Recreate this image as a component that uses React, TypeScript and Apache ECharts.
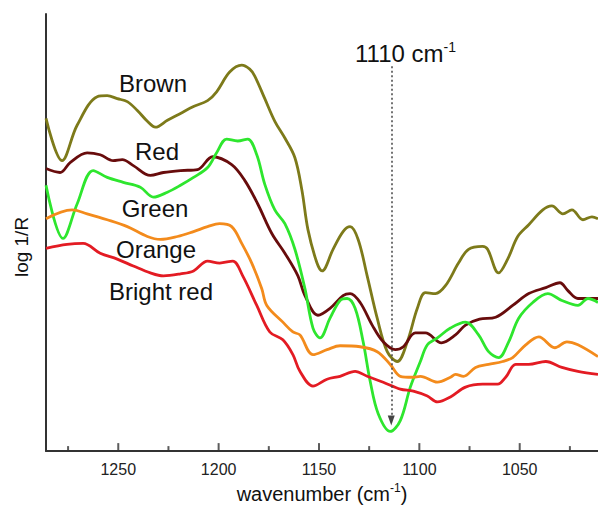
import React, { useEffect, useRef } from "react";
import * as echarts from "echarts";

// wavenumber (cm-1) and log 1/R (arbitrary units)
const brownX = [1286, 1278, 1270.5, 1260.5, 1255.5, 1250.5, 1245.5, 1240.5, 1235.5, 1231.5, 1225.5, 1219, 1212.5, 1205.5, 1201, 1194.5, 1188.5, 1184.5, 1182, 1177, 1172, 1167, 1162, 1158.5, 1155.5, 1151, 1148.5, 1143, 1138, 1134.5, 1130.5, 1126, 1121, 1116, 1111, 1106, 1101, 1097, 1092, 1087, 1080.5, 1075.5, 1068.5, 1066, 1060.5, 1056, 1051, 1045.5, 1038.5, 1034, 1028.5, 1024, 1018.5, 1014, 1011];
const brownY = [338, 295, 331, 360, 361, 358, 355, 346, 335, 329, 336, 343, 350, 356, 365, 385, 392, 388, 381, 358, 335, 318, 298, 265, 225, 191, 183, 205, 223, 228, 215, 178, 135, 101, 91, 111, 145, 161, 160, 168, 191, 205, 208, 205, 181, 195, 218, 230, 245, 249, 241, 245, 235, 238, 236];

const redX = [1286, 1279, 1274, 1265.5, 1259, 1252.5, 1248, 1242.5, 1234, 1227.5, 1219, 1210.5, 1203, 1193.5, 1187, 1180.5, 1173.5, 1167, 1160.5, 1157, 1150.5, 1144.5, 1138, 1134.5, 1129.5, 1123.5, 1118, 1112, 1108, 1102, 1097, 1089, 1082, 1077, 1070, 1062, 1053.5, 1045.5, 1037, 1030, 1026, 1021, 1014, 1011];
const redY = [287, 283, 293, 303, 301, 295, 296, 290, 280, 283, 285, 286, 299, 291, 275, 251, 221, 201, 178, 158, 138, 145, 158, 160, 151, 128, 111, 103, 106, 120, 120, 110, 118, 128, 134, 136, 148, 160, 166, 171, 163, 155, 155, 155];

const greenX = [1286, 1277.5, 1270.5, 1262.5, 1255.5, 1247.5, 1239, 1232.5, 1225.5, 1219, 1212.5, 1205.5, 1201, 1196, 1190.5, 1185.5, 1181, 1177, 1172, 1167, 1162, 1157, 1153, 1149.5, 1144.5, 1139.5, 1136, 1132, 1128, 1124.5, 1120.5, 1114.5, 1109.5, 1104.5, 1099.5, 1096, 1091, 1084.5, 1077, 1070.5, 1065.5, 1060.5, 1055.5, 1050.5, 1043.5, 1036, 1029, 1021, 1016, 1011];
const greenY = [270, 216, 251, 285, 278, 273, 268, 258, 263, 270, 278, 288, 303, 317, 315, 317, 301, 271, 245, 231, 205, 165, 125, 115, 135, 153, 155, 145, 111, 71, 38, 20, 31, 65, 91, 108, 115, 125, 131, 118, 101, 95, 111, 135, 151, 160, 153, 148, 155, 151];

const orangeX = [1286, 1273, 1265.5, 1255.5, 1245.5, 1235.5, 1229, 1220.5, 1212.5, 1205.5, 1199.5, 1193.5, 1188.5, 1183.5, 1178.5, 1176, 1168, 1163, 1159.5, 1153, 1146, 1139.5, 1129.5, 1121, 1114.5, 1109.5, 1103.5, 1099.5, 1091, 1084.5, 1082, 1078, 1072, 1065.5, 1058.5, 1053.5, 1047, 1040.5, 1032.5, 1026.5, 1021, 1011];
const orangeY = [236, 245, 241, 235, 228, 218, 215, 218, 223, 228, 231, 228, 211, 191, 165, 148, 131, 121, 118, 98, 103, 107, 106, 101, 88, 76, 75, 76, 70, 75, 78, 76, 85, 88, 91, 95, 108, 116, 105, 111, 108, 96];

const brightX = [1286, 1275.5, 1267.5, 1259, 1250.5, 1242.5, 1234, 1227.5, 1219, 1212.5, 1205.5, 1199.5, 1193, 1188, 1181, 1174.5, 1168, 1163, 1159.5, 1153, 1146, 1139.5, 1132, 1126, 1118, 1109.5, 1103, 1096, 1091, 1084.5, 1077, 1068.5, 1061, 1057, 1052, 1045.5, 1037, 1029, 1021, 1011];
const brightY = [206, 210, 211, 201, 195, 188, 181, 178, 180, 183, 193, 191, 193, 178, 148, 121, 113, 98, 81, 66, 73, 76, 81, 76, 70, 63, 61, 56, 50, 55, 65, 68, 68, 75, 88, 88, 91, 85, 81, 78];

const seriesNames = ["Brown", "Red", "Green", "Orange", "Bright red"];
const seriesColors = ["#7d7a1a", "#680c0c", "#2ee62e", "#f38b1c", "#e31b23"];
const xMin = 1011;
const xMax = 1286;
const majorTicks = [1250, 1200, 1150, 1100, 1050];
const minorTicks = [1275, 1225, 1175, 1125, 1075, 1025];
const markWavenumber = 1114;
const markTop = 391;
const markBottom = 31;

function zip(xs: number[], ys: number[]) {
  return xs.map((x, i) => [x, ys[i]]);
}

export default function App() {
  const ref = useRef<HTMLDivElement>(null);
  useEffect(() => {
    if (!ref.current) return;
    const chart = echarts.init(ref.current, null, { renderer: "svg" });
    const datasets = [
      zip(brownX, brownY),
      zip(redX, redY),
      zip(greenX, greenY),
      zip(orangeX, orangeY),
      zip(brightX, brightY),
    ];
    const font = "'Liberation Sans', Arial, sans-serif";
    const axisColor = "#333";

    const series: any[] = datasets.map((d, i) => ({
      name: seriesNames[i],
      type: "line",
      data: d,
      smooth: 0.35,
      showSymbol: false,
      lineStyle: { color: seriesColors[i], width: 2.8 },
      itemStyle: { color: seriesColors[i] },
      z: 3,
    }));
    // tick marks on the wavenumber axis (drawn through the axis scale)
    series.push({
      type: "scatter",
      data: majorTicks.map((v) => [v, 0]),
      symbol: "rect",
      symbolSize: [2, 8],
      symbolOffset: [0, -4],
      itemStyle: { color: axisColor },
      silent: true,
      clip: false,
      z: 5,
    });
    series.push({
      type: "scatter",
      data: minorTicks.map((v) => [v, 0]),
      symbol: "rect",
      symbolSize: [2, 5],
      symbolOffset: [0, -2.5],
      itemStyle: { color: axisColor },
      silent: true,
      clip: false,
      z: 5,
    });
    series.push({
      type: "line",
      data: [],
      markLine: {
        silent: true,
        animation: false,
        symbol: ["none", "triangle"],
        symbolSize: [7, 10],
        lineStyle: { color: "#444", width: 1.5, type: [2, 2.5] },
        label: { show: false },
        data: [
          [
            { coord: [markWavenumber, markTop] },
            { coord: [markWavenumber, markBottom] },
          ],
        ],
      },
    });
    const labelPos = [
      [153, 83],
      [157, 151],
      [155, 208],
      [156, 249],
      [161, 291],
    ];
    chart.setOption({
      animation: false,
      grid: { left: 46, right: 0, top: 14, bottom: 51 },
      xAxis: {
        type: "value",
        inverse: true,
        min: xMin,
        max: xMax,
        axisLine: { show: true, lineStyle: { color: axisColor, width: 2 } },
        axisTick: { show: false },
        axisLabel: {
          customValues: majorTicks,
          color: "#222",
          fontSize: 16,
          fontFamily: font,
          margin: 10,
          formatter: (v: number) => String(v),
        },
        splitLine: { show: false },
        name: "{a|wavenumber (cm}{b|-1}{a|)}",
        nameLocation: "middle",
        nameGap: 26,
        nameTextStyle: {
          rich: {
            a: { fontSize: 20, fontFamily: font, color: "#111", lineHeight: 24 },
            b: { fontSize: 12, fontFamily: font, color: "#111", verticalAlign: "top", lineHeight: 14 },
          },
        },
      },
      yAxis: {
        type: "value",
        min: 0,
        max: 444,
        axisLine: { show: true, lineStyle: { color: axisColor, width: 2 } },
        axisTick: { show: false },
        axisLabel: { show: false },
        splitLine: { show: false },
      },
      series,
      graphic: [
        ...seriesNames.map((n, i) => ({
          type: "text",
          x: labelPos[i][0],
          y: labelPos[i][1],
          z: 10,
          style: {
            text: n,
            fill: "#111",
            font: `24px ${font}`,
            align: "center",
            verticalAlign: "middle",
          },
        })),
        {
          type: "text",
          x: 21,
          y: 247,
          rotation: Math.PI / 2,
          style: {
            text: "log 1/R",
            fill: "#111",
            font: `19px ${font}`,
            align: "center",
            verticalAlign: "middle",
          },
        },
        {
          type: "text",
          x: 355,
          y: 40,
          style: {
            text: "{a|1110 cm}{b|-1}",
            rich: {
              a: { fontSize: 24, fontFamily: font, fill: "#111", lineHeight: 26 },
              b: { fontSize: 14, fontFamily: font, fill: "#111", verticalAlign: "top", lineHeight: 14 },
            },
          },
        },
      ],
    });
    return () => chart.dispose();
  }, []);
  return (
    <div
      ref={ref}
      style={{ position: "fixed", left: 0, top: 0, width: 598, height: 509, background: "#fff" }}
    />
  );
}
